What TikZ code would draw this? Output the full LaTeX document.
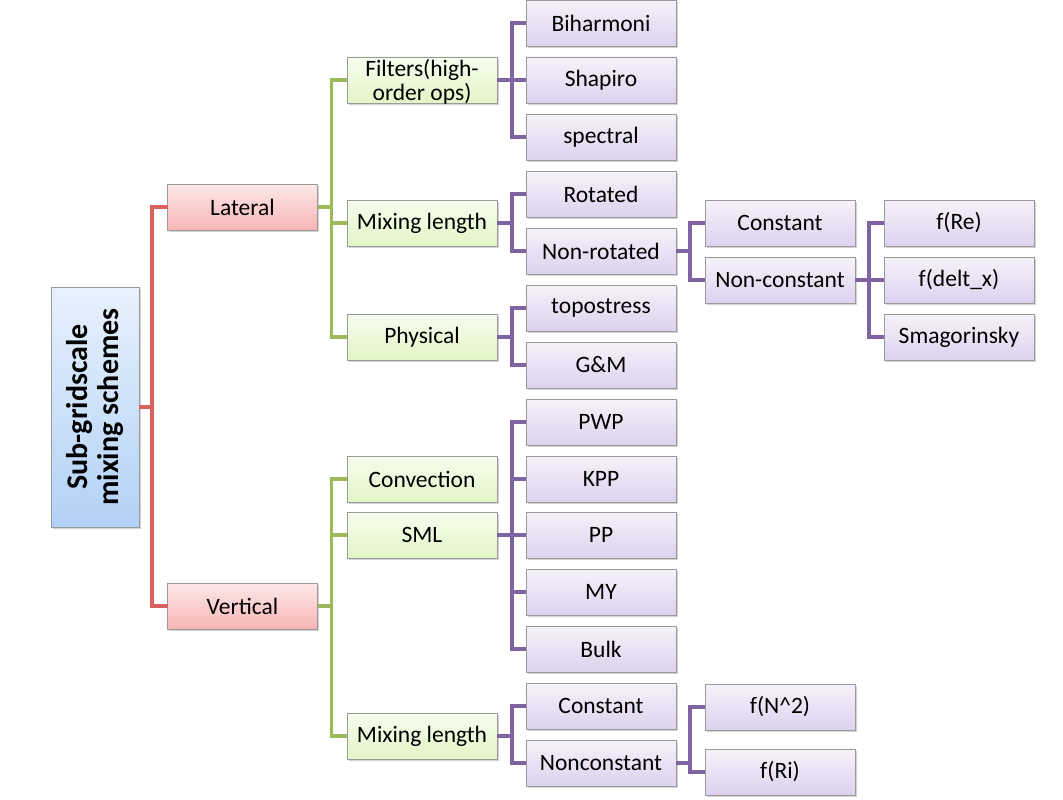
\documentclass[tikz,border=0pt]{standalone}
\usepackage{fontspec}
\setmainfont{Carlito}
\usetikzlibrary{shadows}
\definecolor{redtop}{HTML}{FDE8E8}
\definecolor{redbot}{HTML}{F8B5B5}
\definecolor{grntop}{HTML}{F7FCEE}
\definecolor{grnbot}{HTML}{E2F6C6}
\definecolor{purtop}{HTML}{F6F2FA}
\definecolor{purbot}{HTML}{DCD2EE}
\definecolor{blutop}{HTML}{E8F1FC}
\definecolor{blubot}{HTML}{B2D1F6}
\definecolor{redln}{HTML}{D9625E}
\definecolor{grnln}{HTML}{9BBB59}
\definecolor{purln}{HTML}{8064A2}
\definecolor{bord}{HTML}{9A9A9A}
\tikzset{
  box/.style={rectangle, draw=bord, line width=0.8pt, minimum width=150pt, minimum height=46pt,
    inner sep=0pt, outer sep=0pt, align=center, font=\fontsize{23.5}{24}\selectfont,
    drop shadow={opacity=0.35, shadow xshift=1.5pt, shadow yshift=-1.8pt}},
  redbox/.style={box, top color=redtop, bottom color=redbot},
  grnbox/.style={box, top color=grntop, bottom color=grnbot},
  purbox/.style={box, top color=purtop, bottom color=purbot},
  rootbox/.style={box, top color=blutop, bottom color=blubot, minimum width=88pt, minimum height=240pt},
  redc/.style={draw=redln, line width=3.2pt},
  grnc/.style={draw=grnln, line width=3.2pt},
  purc/.style={draw=purln, line width=3.2pt},
}
\begin{document}
\begin{tikzpicture}[x=1pt,y=-1pt]
\useasboundingbox (0,0) rectangle (1063,800);
\node[rootbox] (root) at (95,407) {};
\node[rotate=90, align=center, font=\bfseries\fontsize{30}{31}\selectfont] (roottxt) at (root.center) {Sub-gridscale\\mixing schemes};
% level 1
\node[redbox] (lat) at (242.5,207) {Lateral};
\node[redbox] (ver) at (242.5,606) {Vertical};
% level 2
\node[grnbox] (fil) at (422,80) {\raisebox{0pt}[19pt][0pt]{\begin{tabular}{@{}c@{}}Filters(high-\\[0pt]order ops)\end{tabular}}};
\node[grnbox] (mix) at (422,223) {Mixing length};
\node[grnbox] (phy) at (422,337) {Physical};
\node[grnbox] (con) at (422,479) {Convection};
\node[grnbox] (sml) at (422,535) {SML};
\node[grnbox] (mixv) at (422,736) {Mixing length};
% level 3
\node[purbox] (bih) at (601,23) {Biharmoni};
\node[purbox] (sha) at (601,80) {Shapiro};
\node[purbox] (spe) at (601,137) {spectral};
\node[purbox] (rot) at (601,194) {Rotated};
\node[purbox] (nrot) at (601,251) {Non-rotated};
\node[purbox] (top) at (601,308) {topostress};
\node[purbox] (gm) at (601,365) {G\&M};
\node[purbox] (pwp) at (601,422) {PWP};
\node[purbox] (kpp) at (601,479) {KPP};
\node[purbox] (pp) at (601,535) {PP};
\node[purbox] (my) at (601,592) {MY};
\node[purbox] (bulk) at (601,649) {Bulk};
\node[purbox] (vcst) at (601,706) {Constant};
\node[purbox] (vncst) at (601,763) {Nonconstant};
% level 4
\node[purbox] (cst) at (780,223) {Constant};
\node[purbox] (ncst) at (780,280) {Non-constant};
\node[purbox] (fn) at (780,707) {f(N\textasciicircum 2)};
\node[purbox] (fri) at (780,772) {f(Ri)};
% level 5
\node[purbox] (fre) at (959,223) {f(Re)};
\node[purbox] (fdx) at (959,280) {f(delt\_x)};
\node[purbox] (sma) at (959,337) {Smagorinsky};
% connectors
\foreach \c in {lat,ver} \draw[redc] (root.east) -- ++(13,0) |- (\c.west);
\foreach \c in {fil,mix,phy} \draw[grnc] (lat.east) -- ++(14,0) |- (\c.west);
\foreach \c in {con,sml,mixv} \draw[grnc] (ver.east) -- ++(14,0) |- (\c.west);
\foreach \c in {bih,sha,spe} \draw[purc] (fil.east) -- ++(15,0) |- (\c.west);
\foreach \c in {rot,nrot} \draw[purc] (mix.east) -- ++(15,0) |- (\c.west);
\foreach \c in {top,gm} \draw[purc] (phy.east) -- ++(15,0) |- (\c.west);
\foreach \c in {pwp,kpp,pp,my,bulk} \draw[purc] (sml.east) -- ++(15,0) |- (\c.west);
\foreach \c in {vcst,vncst} \draw[purc] (mixv.east) -- ++(15,0) |- (\c.west);
\foreach \c in {cst,ncst} \draw[purc] (nrot.east) -- ++(14,0) |- (\c.west);
\foreach \c in {fn,fri} \draw[purc] (vncst.east) -- ++(14,0) |- (\c.west);
\foreach \c in {fre,fdx,sma} \draw[purc] (ncst.east) -- ++(14,0) |- (\c.west);
\end{tikzpicture}
\end{document}
